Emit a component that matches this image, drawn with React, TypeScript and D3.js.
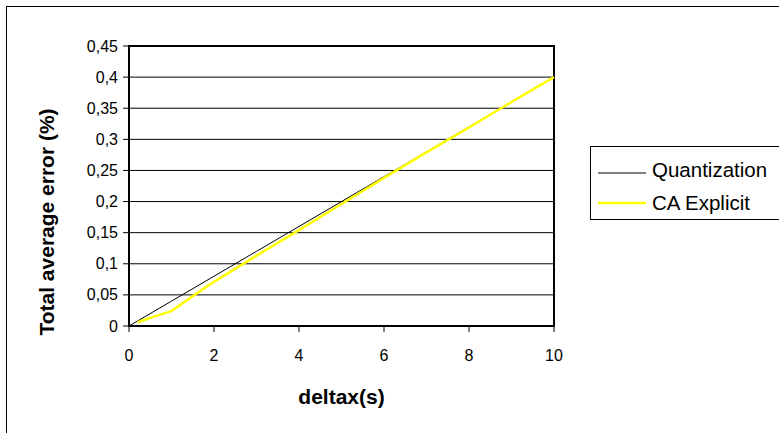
import React from "react";
import * as d3 from "d3";

// Step size in seconds
const deltaX: number[] = [0, 1, 2, 3, 4, 5, 6, 7, 8, 9, 10];
const quantization: number[] = [0, 0.04, 0.08, 0.12, 0.16, 0.2, 0.24, 0.28, 0.32, 0.36, 0.4];

const explicitX: number[] = [0.2, 0.5, 1, 1.5, 2, 3, 4, 5, 6, 7, 8, 9, 10];
const caExplicit: number[] = [0.006, 0.013, 0.024, 0.048, 0.071, 0.113, 0.154, 0.196, 0.238, 0.279, 0.319, 0.36, 0.4];

const xTicks: number[] = [0, 2, 4, 6, 8, 10];
const yTicks: number[] = [0, 0.05, 0.1, 0.15, 0.2, 0.25, 0.3, 0.35, 0.4, 0.45];

const seriesNames: string[] = ["Quantization", "CA Explicit"];
const seriesColors: string[] = ["#000000", "#FFFF00"];

const W = 779;
const H = 433;
const plot = { left: 129, right: 554, top: 46, bottom: 326 };
const FONT = "'Liberation Sans', Arial, sans-serif";

const fmt = (v: number) => String(Math.round(v * 100) / 100).replace(".", ",");

export default function App() {
  const x = d3.scaleLinear().domain([0, 10]).range([plot.left, plot.right]);
  const y = d3.scaleLinear().domain([0, 0.45]).range([plot.bottom, plot.top]);

  const line = d3
    .line<[number, number]>()
    .x((d) => x(d[0]))
    .y((d) => y(d[1]));

  const qPts: [number, number][] = deltaX.map((v, i) => [v, quantization[i]]);
  const ePts: [number, number][] = explicitX.map((v, i) => [v, caExplicit[i]]);

  const legendX = 598;
  const legendRows = [170, 203];

  return (
    <svg
      width={W}
      height={H}
      style={{ position: "absolute", left: 0, top: 0, background: "#fff" }}
      fontFamily={FONT}
    >
      <rect x={0} y={0} width={W} height={H} fill="#fff" />
      {/* outer chart frame */}
      <rect x={6.5} y={6.5} width={W + 20} height={H + 20} fill="none" stroke="#000" strokeWidth={1} />

      {/* gridlines */}
      {yTicks.slice(1).map((t) => (
        <line key={t} x1={plot.left} x2={plot.right} y1={y(t)} y2={y(t)} stroke="#000" strokeWidth={1} />
      ))}

      {/* plot border */}
      <rect
        x={plot.left}
        y={plot.top}
        width={plot.right - plot.left}
        height={plot.bottom - plot.top}
        fill="none"
        stroke="#000"
        strokeWidth={2}
      />

      {/* y axis ticks and labels */}
      {yTicks.map((t) => (
        <g key={t}>
          <line x1={plot.left - 6} x2={plot.left} y1={y(t)} y2={y(t)} stroke="#000" strokeWidth={1} />
          <text x={plot.left - 11} y={y(t)} dy="0.35em" textAnchor="end" fontSize={16}>
            {fmt(t)}
          </text>
        </g>
      ))}

      {/* x axis ticks and labels */}
      {xTicks.map((t) => (
        <g key={t}>
          <line x1={x(t)} x2={x(t)} y1={plot.bottom} y2={plot.bottom + 6} stroke="#000" strokeWidth={1} />
          <text x={x(t)} y={plot.bottom + 29} dy="0.35em" textAnchor="middle" fontSize={16}>
            {t}
          </text>
        </g>
      ))}

      {/* series */}
      <path d={line(qPts) || ""} fill="none" stroke={seriesColors[0]} strokeWidth={1} />
      <path d={line(ePts) || ""} fill="none" stroke={seriesColors[1]} strokeWidth={2.5} strokeLinejoin="round" />

      {/* axis titles */}
      <text x={(plot.left + plot.right) / 2} y={397} dy="0.35em" textAnchor="middle" fontSize={21} fontWeight="bold">
        deltax(s)
      </text>
      <text
        transform={`translate(47, 222) rotate(-90)`}
        dy="0.35em"
        textAnchor="middle"
        fontSize={21}
        fontWeight="bold"
      >
        Total average error (%)
      </text>

      {/* legend */}
      <rect x={590.5} y={146.5} width={200} height={73} fill="#fff" stroke="#000" strokeWidth={1} />
      {seriesNames.map((name, i) => (
        <g key={name}>
          <line
            x1={legendX}
            x2={legendX + 48}
            y1={legendRows[i] + (i === 0 ? 3 : 0)}
            y2={legendRows[i] + (i === 0 ? 3 : 0)}
            stroke={seriesColors[i]}
            strokeWidth={i === 0 ? 1 : 2.5}
          />
          <text x={652} y={legendRows[i]} dy="0.35em" fontSize={20.5}>
            {name}
          </text>
        </g>
      ))}
    </svg>
  );
}
